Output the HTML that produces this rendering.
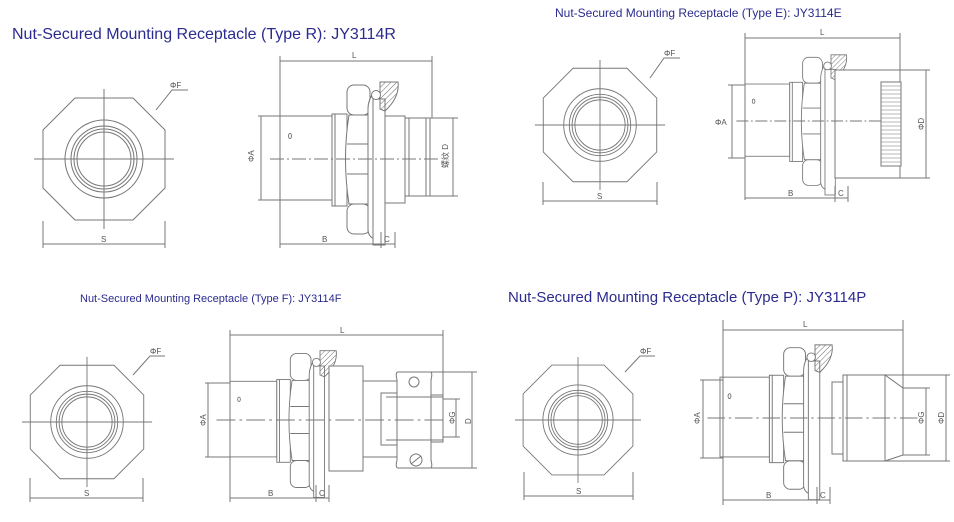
<!DOCTYPE html>
<html><head><meta charset="utf-8"><style>
html,body{margin:0;padding:0;background:#fff;width:954px;height:522px;overflow:hidden}
svg{display:block}
.t{font-family:"Liberation Sans",Arial,sans-serif;fill:#2b2b8f}
.d{font-family:"Liberation Sans",Arial,sans-serif;fill:#555;font-size:8px}
</style></head><body>
<svg width="954" height="522" viewBox="0 0 954 522" xmlns="http://www.w3.org/2000/svg">
<defs>
<pattern id="h" width="4" height="4" patternUnits="userSpaceOnUse" patternTransform="rotate(45)"><line x1="0" y1="0" x2="0" y2="4" stroke="#666" stroke-width="1"/></pattern>
<g id="front" fill="none" stroke="#777" stroke-width="1">
<polygon points="-29,-61 29,-61 61,-29 61,29 29,61 -29,61 -61,29 -61,-29"/>
<circle r="39"/><circle r="33"/><circle r="30"/><circle r="27"/>
<line x1="-70" y1="0" x2="70" y2="0"/><line x1="0" y1="-70" x2="0" y2="70"/>
</g>
<g id="side" fill="#fff" stroke="#777" stroke-width="1">
<rect x="0" y="-43" width="52" height="84"/>
<ellipse cx="10" cy="-23" rx="1.5" ry="2.5"/>
<rect x="52" y="-45" width="15" height="92"/>
<line x1="55" y1="-45" x2="55" y2="47"/>
<rect x="67" y="-74" width="23" height="30" rx="7"/>
<rect x="67" y="45" width="23" height="30" rx="7"/>
<path d="M69,-44 Q62,0 69,45 L88,45 Q95,0 88,-44 Z"/>
<line x1="67" y1="-15" x2="90" y2="-15"/><line x1="67" y1="15" x2="90" y2="15"/>
<path d="M95,-68 Q88,-60 88,-50 L88,70 Q88,78 95,80"/>
<rect x="93" y="-60" width="12" height="146"/>
<path d="M100,-77 L118,-77 Q120,-62 105,-48 L100,-50 Z" fill="url(#h)"/>
<circle cx="96" cy="-64" r="4.5"/>
</g>
<line id="cl" x1="-10" y1="0" x2="160" y2="0" stroke="#777" stroke-width="1" stroke-dasharray="14,3,2,3"/>
</defs>

<!-- Titles -->
<text class="t" x="12" y="39" font-size="16">Nut-Secured Mounting Receptacle (Type R): JY3114R</text>
<text class="t" x="555" y="17" font-size="12">Nut-Secured Mounting Receptacle (Type E): JY3114E</text>
<text class="t" x="80" y="302" font-size="11">Nut-Secured Mounting Receptacle (Type F): JY3114F</text>
<text class="t" x="508" y="302" font-size="15">Nut-Secured Mounting Receptacle (Type P): JY3114P</text>

<g stroke="#777" fill="none" stroke-width="1">
<use href="#front" transform="translate(104,159)"/>
<use href="#front" transform="translate(600,125) scale(0.93)"/>
<use href="#front" transform="translate(87,422) scale(0.93)"/>
<use href="#front" transform="translate(578,420) scale(0.9)"/>
<polyline points="156,110 172,90 188,90"/><polyline points="650,78 664,58 680,58"/>
<polyline points="133,375 150,356 165,356"/><polyline points="625,372 640,356 655,356"/>
<line x1="43" y1="221" x2="43" y2="248"/><line x1="165" y1="221" x2="165" y2="248"/><line x1="43" y1="244" x2="165" y2="244"/>
<line x1="543" y1="182" x2="543" y2="205"/><line x1="657" y1="182" x2="657" y2="205"/><line x1="543" y1="201" x2="657" y2="201"/>
<line x1="30" y1="478" x2="30" y2="502"/><line x1="143" y1="478" x2="143" y2="502"/><line x1="30" y1="498" x2="143" y2="498"/>
<line x1="524" y1="472" x2="524" y2="500"/><line x1="633" y1="472" x2="633" y2="500"/><line x1="524" y1="496" x2="633" y2="496"/>
</g>
<text class="d" x="170" y="88">ΦF</text><text class="d" x="664" y="56">ΦF</text>
<text class="d" x="150" y="354">ΦF</text><text class="d" x="640" y="354">ΦF</text>
<text class="d" x="101" y="242">S</text><text class="d" x="597" y="199">S</text>
<text class="d" x="84" y="496">S</text><text class="d" x="576" y="494">S</text>

<!-- R side -->
<use href="#side" transform="translate(280,159)"/>
<g stroke="#777" fill="#fff" stroke-width="1">
<rect x="385" y="116" width="20" height="87"/>
<rect x="405" y="118" width="25" height="78"/><line x1="409" y1="118" x2="409" y2="196"/><line x1="426" y1="118" x2="426" y2="196"/>
<g fill="none">
<line x1="280" y1="56" x2="280" y2="248"/><line x1="432" y1="56" x2="432" y2="118"/><line x1="280" y1="61" x2="432" y2="61"/>
<line x1="258" y1="116" x2="280" y2="116"/><line x1="258" y1="200" x2="280" y2="200"/><line x1="261" y1="116" x2="261" y2="200"/>
<line x1="430" y1="118" x2="458" y2="118"/><line x1="430" y1="196" x2="458" y2="196"/><line x1="453" y1="118" x2="453" y2="196"/>
<line x1="280" y1="244" x2="381" y2="244"/><line x1="381" y1="232" x2="381" y2="248"/><line x1="395" y1="232" x2="395" y2="248"/><line x1="381" y1="244" x2="395" y2="244"/>
</g></g>
<use href="#cl" transform="translate(280,159)"/>
<text class="d" x="352" y="58">L</text><text class="d" x="322" y="242">B</text><text class="d" x="384" y="242">C</text>
<text class="d" transform="translate(254,162) rotate(-90)">ΦA</text>
<text class="d" transform="translate(448,168) rotate(-90)" font-family="Liberation Sans,Noto Sans CJK SC,sans-serif">螺纹 D</text>

<!-- E side -->
<use href="#side" transform="translate(745,121) scale(0.86)"/>
<g stroke="#777" fill="#fff" stroke-width="1">
<rect x="835" y="70" width="65" height="108"/>
<rect x="881" y="82" width="20" height="84" fill="#fff"/>
<g stroke-width="0.6"><line x1="881" y1="86" x2="901" y2="86"/><line x1="881" y1="90" x2="901" y2="90"/><line x1="881" y1="94" x2="901" y2="94"/><line x1="881" y1="98" x2="901" y2="98"/><line x1="881" y1="102" x2="901" y2="102"/><line x1="881" y1="106" x2="901" y2="106"/><line x1="881" y1="110" x2="901" y2="110"/><line x1="881" y1="114" x2="901" y2="114"/><line x1="881" y1="118" x2="901" y2="118"/><line x1="881" y1="122" x2="901" y2="122"/><line x1="881" y1="126" x2="901" y2="126"/><line x1="881" y1="130" x2="901" y2="130"/><line x1="881" y1="134" x2="901" y2="134"/><line x1="881" y1="138" x2="901" y2="138"/><line x1="881" y1="142" x2="901" y2="142"/><line x1="881" y1="146" x2="901" y2="146"/><line x1="881" y1="150" x2="901" y2="150"/><line x1="881" y1="154" x2="901" y2="154"/><line x1="881" y1="158" x2="901" y2="158"/><line x1="881" y1="162" x2="901" y2="162"/></g>
<g fill="none">
<line x1="745" y1="33" x2="745" y2="200"/><line x1="900" y1="33" x2="900" y2="70"/><line x1="745" y1="38" x2="900" y2="38"/>
<line x1="728" y1="85" x2="745" y2="85"/><line x1="728" y1="158" x2="745" y2="158"/><line x1="732" y1="85" x2="732" y2="158"/>
<line x1="900" y1="70" x2="930" y2="70"/><line x1="900" y1="178" x2="930" y2="178"/><line x1="926" y1="70" x2="926" y2="178"/>
<line x1="745" y1="198" x2="835" y2="198"/><line x1="835" y1="186" x2="835" y2="202"/><line x1="848" y1="186" x2="848" y2="202"/><line x1="835" y1="198" x2="848" y2="198"/>
</g></g>
<use href="#cl" transform="translate(745,121) scale(0.86,1)"/>
<text class="d" x="820" y="35">L</text><text class="d" x="788" y="196">B</text><text class="d" x="838" y="196">C</text>
<text class="d" x="715" y="125">ΦA</text>
<text class="d" transform="translate(924,130) rotate(-90)">ΦD</text>

<!-- F side -->
<use href="#side" transform="translate(230,420) scale(0.9)"/>
<g stroke="#777" fill="#fff" stroke-width="1">
<rect x="329" y="366" width="34" height="105"/>
<rect x="363" y="381" width="34" height="76"/>
<rect x="381" y="393" width="16" height="52"/>
<path d="M398,372 Q395,372 397,380 L397,460 Q395,468 398,468 L430,468 Q433,468 431,460 L431,380 Q433,372 430,372 Z"/>
<rect x="431" y="395" width="12" height="47"/>
<line x1="386" y1="397" x2="443" y2="397"/><line x1="386" y1="440" x2="443" y2="440"/>
<circle cx="414" cy="382" r="5"/><circle cx="416" cy="460" r="6"/><line x1="411" y1="464" x2="421" y2="456"/>
<g fill="none">
<line x1="230" y1="330" x2="230" y2="502"/><line x1="443" y1="330" x2="443" y2="395"/><line x1="230" y1="335" x2="443" y2="335"/>
<line x1="205" y1="383" x2="230" y2="383"/><line x1="205" y1="457" x2="230" y2="457"/><line x1="208" y1="383" x2="208" y2="457"/>
<line x1="443" y1="399" x2="460" y2="399"/><line x1="443" y1="437" x2="460" y2="437"/><line x1="456" y1="399" x2="456" y2="437"/>
<line x1="431" y1="372" x2="477" y2="372"/><line x1="431" y1="468" x2="477" y2="468"/><line x1="472" y1="372" x2="472" y2="468"/>
<line x1="230" y1="498" x2="316" y2="498"/><line x1="316" y1="485" x2="316" y2="502"/><line x1="329" y1="485" x2="329" y2="502"/><line x1="316" y1="498" x2="329" y2="498"/>
</g></g>
<use href="#cl" transform="translate(230,420) scale(1.35,1)"/>
<text class="d" x="340" y="333">L</text><text class="d" x="268" y="496">B</text><text class="d" x="319" y="496">C</text>
<text class="d" transform="translate(206,426) rotate(-90)">ΦA</text>
<text class="d" transform="translate(455,424) rotate(-90)">ΦG</text>
<text class="d" transform="translate(471,424) rotate(-90)">D</text>

<!-- P side -->
<use href="#side" transform="translate(720,418) scale(0.95)"/>
<g stroke="#777" fill="#fff" stroke-width="1">
<rect x="832" y="382" width="12" height="72"/>
<rect x="843" y="375" width="42" height="86"/><line x1="847" y1="375" x2="847" y2="461"/>
<path d="M885,375 L903,388 L903,455 L885,461 Z"/>
<g fill="none">
<line x1="723" y1="320" x2="723" y2="505"/><line x1="903" y1="320" x2="903" y2="388"/><line x1="723" y1="330" x2="903" y2="330"/>
<line x1="700" y1="380" x2="723" y2="380"/><line x1="700" y1="458" x2="723" y2="458"/><line x1="703" y1="380" x2="703" y2="458"/>
<line x1="903" y1="388" x2="930" y2="388"/><line x1="903" y1="455" x2="930" y2="455"/><line x1="926" y1="388" x2="926" y2="455"/>
<line x1="885" y1="375" x2="950" y2="375"/><line x1="885" y1="461" x2="950" y2="461"/><line x1="946" y1="375" x2="946" y2="461"/>
<line x1="723" y1="500" x2="817" y2="500"/><line x1="817" y1="487" x2="817" y2="504"/><line x1="830" y1="487" x2="830" y2="504"/><line x1="817" y1="500" x2="830" y2="500"/>
</g></g>
<use href="#cl" transform="translate(720,418) scale(1.25,1)"/>
<text class="d" x="803" y="327">L</text><text class="d" x="766" y="498">B</text><text class="d" x="820" y="498">C</text>
<text class="d" transform="translate(700,424) rotate(-90)">ΦA</text>
<text class="d" transform="translate(924,424) rotate(-90)">ΦG</text>
<text class="d" transform="translate(944,424) rotate(-90)">ΦD</text>
</svg>
</body></html>
